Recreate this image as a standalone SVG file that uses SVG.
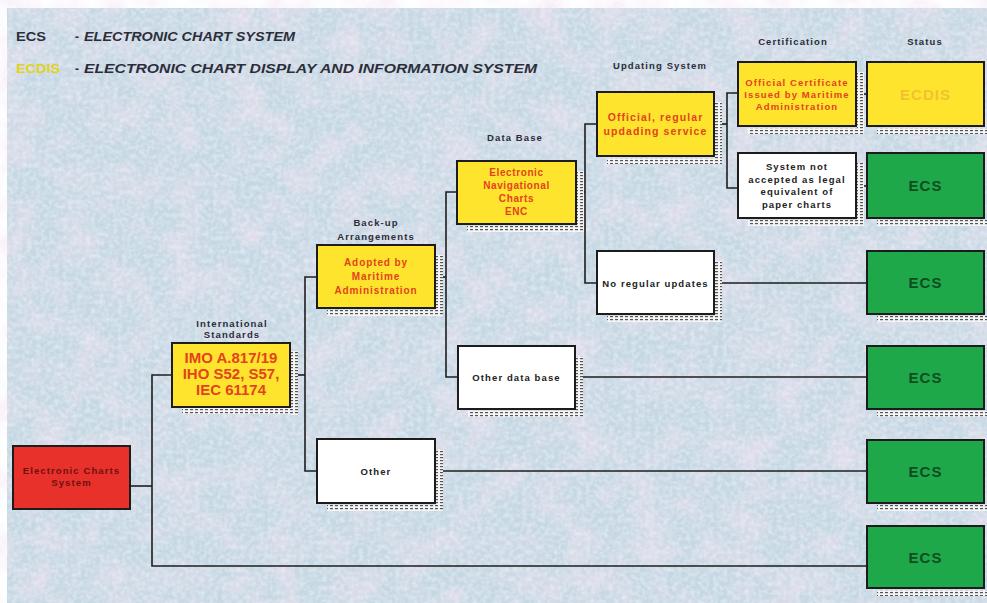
<svg xmlns="http://www.w3.org/2000/svg" width="987" height="603" viewBox="0 0 987 603">
  <defs>
    <style>
      text { font-family: "Liberation Sans", Arial, sans-serif; font-weight: bold; text-anchor: middle; }
      .box { stroke: #1c1c1c; stroke-width: 2; }
      .yel { fill: #ffe42e; }
      .wht { fill: #ffffff; }
      .grn { fill: #1fa84a; }
      .red { fill: #e8312b; }
      .shadow { fill: url(#dash); }
      .t-or { fill: #e4421c; }
      .t-blk { fill: #222222; font-size: 9.5px; letter-spacing: 1.1px; }
      .t-ecs { fill: #0f4d20; font-size: 15px; letter-spacing: 1px; }
      .cap { fill: #2a2d38; font-size: 9.5px; letter-spacing: 1.1px; }
      .hdr { text-anchor: start; fill: #2b2e3a; font-size: 12px; }
      .conn line, .conn polyline { stroke: #1e1e1e; stroke-width: 1.6; fill: none; }
    </style>
    <!-- dotted drop-shadow strips -->
    <pattern id="dash" width="5" height="3" patternUnits="userSpaceOnUse">
      <rect width="5" height="3" fill="#f4f4f4"/>
      <rect x="0" y="1" width="3" height="1.2" fill="#555555"/>
    </pattern>
    <filter id="mottle" filterUnits="userSpaceOnUse" x="0" y="0" width="987" height="603">
      <feTurbulence type="fractalNoise" baseFrequency="0.03" numOctaves="3" seed="7" result="n"/>
      <feColorMatrix in="n" type="matrix" values="0 0 0 0 0.88  0 0 0 0 0.74  0 0 0 0 0.86  2.0 0 0 0 -0.8" result="pink"/>
      <feTurbulence type="fractalNoise" baseFrequency="0.22" numOctaves="2" seed="3" result="g"/>
      <feColorMatrix in="g" type="matrix" values="0 0 0 0 0.95  0 0 0 0 0.97  0 0 0 0 1  0 1.3 0 0 -0.45" result="grain"/>
      <feMerge><feMergeNode in="pink"/><feMergeNode in="grain"/></feMerge>
    </filter>
  </defs>

  <!-- page and textured backdrop -->
  <rect width="987" height="603" fill="#ffffff"/>
  <rect x="7" y="8" width="980" height="595" fill="#c5d7e3"/>
  <rect x="7" y="8" width="980" height="595" fill="#ffffff" filter="url(#mottle)" opacity="0.7"/>

  <!-- legend -->
  <g id="legend">
    <text class="hdr" x="16" y="41" textLength="30" lengthAdjust="spacingAndGlyphs">ECS</text>
    <text class="hdr" x="75" y="41">-</text>
    <text class="hdr" x="84" y="41" font-style="italic" textLength="211" lengthAdjust="spacingAndGlyphs">ELECTRONIC CHART SYSTEM</text>
    <text class="hdr" x="16" y="73" style="fill:#e2d21c" textLength="44" lengthAdjust="spacingAndGlyphs">ECDIS</text>
    <text class="hdr" x="75" y="73">-</text>
    <text class="hdr" x="84" y="73" font-style="italic" textLength="453" lengthAdjust="spacingAndGlyphs">ELECTRONIC CHART DISPLAY AND INFORMATION SYSTEM</text>
  </g>

  <!-- column captions -->
  <g id="captions">
    <text class="cap" x="232" y="327">International</text>
    <text class="cap" x="232" y="338">Standards</text>
    <text class="cap" x="376" y="226">Back-up</text>
    <text class="cap" x="376" y="240">Arrangements</text>
    <text class="cap" x="515" y="141">Data Base</text>
    <text class="cap" x="660" y="69">Updating System</text>
    <text class="cap" x="793" y="45">Certification</text>
    <text class="cap" x="925" y="45">Status</text>
  </g>

  <!-- connectors -->
  <g id="connectors" class="conn">
    <polyline points="130,486 152,486"/>
    <polyline points="172,375 152,375 152,566 867,566"/>
    <polyline points="290,375 305,375"/>
    <polyline points="317,277 305,277 305,471 317,471"/>
    <polyline points="435,471 867,471"/>
    <polyline points="435,277 446,277"/>
    <polyline points="457,192 446,192 446,377 458,377"/>
    <polyline points="575,377 867,377"/>
    <polyline points="576,192 585,192"/>
    <polyline points="597,124 585,124 585,283 597,283"/>
    <polyline points="714,283 867,283"/>
    <polyline points="714,124 727,124"/>
    <polyline points="738,93 727,93 727,188 738,188"/>
    <polyline points="856,94 867,94"/>
    <polyline points="856,186 867,186"/>
  </g>

  <!-- nodes -->
  <g id="n-ecs-system">
    <rect class="box red" x="13" y="446" width="117" height="63"/>
    <text x="71.5" y="474" font-size="9.5" letter-spacing="1.1" fill="#6e1010">Electronic Charts</text>
    <text x="71.5" y="485.5" font-size="9.5" letter-spacing="1.1" fill="#6e1010">System</text>
  </g>

  <g id="n-standards">
    <rect class="shadow" x="291" y="351" width="7" height="64"/>
    <rect class="shadow" x="182" y="408" width="116" height="6"/>
    <rect class="box yel" x="172" y="343" width="118" height="64"/>
    <text class="t-or" x="231" y="363" font-size="15">IMO A.817/19</text>
    <text class="t-or" x="231" y="379" font-size="15">IHO S52, S57,</text>
    <text class="t-or" x="231" y="395" font-size="15">IEC 61174</text>
  </g>

  <g id="n-adopted">
    <rect class="shadow" x="436" y="255" width="7" height="61"/>
    <rect class="shadow" x="327" y="310" width="116" height="6"/>
    <rect class="box yel" x="317" y="245" width="118" height="63"/>
    <text class="t-or" x="376" y="266" font-size="10" letter-spacing="0.9">Adopted by</text>
    <text class="t-or" x="376" y="280" font-size="10" letter-spacing="0.9">Maritime</text>
    <text class="t-or" x="376" y="294" font-size="10" letter-spacing="0.9">Administration</text>
  </g>

  <g id="n-other">
    <rect class="shadow" x="436" y="449" width="7" height="62"/>
    <rect class="shadow" x="327" y="505" width="116" height="6"/>
    <rect class="box wht" x="317" y="439" width="118" height="64"/>
    <text class="t-blk" x="376" y="474.5">Other</text>
  </g>

  <g id="n-enc">
    <rect class="shadow" x="577" y="171" width="7" height="61"/>
    <rect class="shadow" x="467" y="226" width="117" height="6"/>
    <rect class="box yel" x="457" y="161" width="119" height="63"/>
    <text class="t-or" x="516.5" y="176" font-size="10" letter-spacing="0.6">Electronic</text>
    <text class="t-or" x="516.5" y="189" font-size="10" letter-spacing="0.6">Navigational</text>
    <text class="t-or" x="516.5" y="202" font-size="10" letter-spacing="0.6">Charts</text>
    <text class="t-or" x="516.5" y="215" font-size="10" letter-spacing="0.6">ENC</text>
  </g>

  <g id="n-other-db">
    <rect class="shadow" x="576" y="356" width="7" height="61"/>
    <rect class="shadow" x="468" y="411" width="115" height="6"/>
    <rect class="box wht" x="458" y="346" width="117" height="63"/>
    <text class="t-blk" x="516.5" y="380.5">Other data base</text>
  </g>

  <g id="n-official-updates">
    <rect class="shadow" x="715" y="102" width="7" height="62"/>
    <rect class="shadow" x="607" y="158" width="115" height="6"/>
    <rect class="box yel" x="597" y="92" width="117" height="64"/>
    <text class="t-or" x="655.5" y="121" font-size="10.5" letter-spacing="1.1">Official, regular</text>
    <text class="t-or" x="655.5" y="135" font-size="10.5" letter-spacing="1.1">updading service</text>
  </g>

  <g id="n-no-updates">
    <rect class="shadow" x="715" y="261" width="7" height="61"/>
    <rect class="shadow" x="607" y="316" width="115" height="6"/>
    <rect class="box wht" x="597" y="251" width="117" height="63"/>
    <text class="t-blk" x="655.5" y="286.5" letter-spacing="1">No regular updates</text>
  </g>

  <g id="n-certificate">
    <rect class="shadow" x="857" y="72" width="7" height="62"/>
    <rect class="shadow" x="748" y="128" width="116" height="6"/>
    <rect class="box yel" x="738" y="62" width="118" height="64"/>
    <text class="t-or" x="797" y="86" font-size="9.5" letter-spacing="1.1">Official Certificate</text>
    <text class="t-or" x="797" y="98" font-size="9.5" letter-spacing="1.1">Issued by Maritime</text>
    <text class="t-or" x="797" y="110" font-size="9.5" letter-spacing="1.1">Administration</text>
  </g>

  <g id="n-not-accepted">
    <rect class="shadow" x="857" y="163" width="7" height="63"/>
    <rect class="shadow" x="748" y="220" width="116" height="6"/>
    <rect class="box wht" x="738" y="153" width="118" height="65"/>
    <text class="t-blk" x="797" y="170">System not</text>
    <text class="t-blk" x="797" y="182.5">accepted as legal</text>
    <text class="t-blk" x="797" y="195">equivalent of</text>
    <text class="t-blk" x="797" y="207.5">paper charts</text>
  </g>

  <g id="s-ecdis">
    <rect class="shadow" x="877" y="128" width="110" height="6"/>
    <rect class="box yel" x="867" y="62" width="117" height="64"/>
    <text x="925.5" y="99.5" font-size="15" letter-spacing="1" fill="#f2c22e">ECDIS</text>
  </g>

  <g id="s-ecs-1">
    <rect class="shadow" x="877" y="220" width="110" height="6"/>
    <rect class="box grn" x="867" y="153" width="117" height="65"/>
    <text class="t-ecs" x="925.5" y="191">ECS</text>
  </g>

  <g id="s-ecs-2">
    <rect class="shadow" x="877" y="316" width="110" height="6"/>
    <rect class="box grn" x="867" y="251" width="117" height="63"/>
    <text class="t-ecs" x="925.5" y="288">ECS</text>
  </g>

  <g id="s-ecs-3">
    <rect class="shadow" x="877" y="411" width="110" height="6"/>
    <rect class="box grn" x="867" y="346" width="117" height="63"/>
    <text class="t-ecs" x="925.5" y="383">ECS</text>
  </g>

  <g id="s-ecs-4">
    <rect class="shadow" x="877" y="505" width="110" height="6"/>
    <rect class="box grn" x="867" y="440" width="117" height="63"/>
    <text class="t-ecs" x="925.5" y="477">ECS</text>
  </g>

  <g id="s-ecs-5">
    <rect class="shadow" x="877" y="590" width="110" height="6"/>
    <rect class="box grn" x="867" y="526" width="117" height="62"/>
    <text class="t-ecs" x="925.5" y="562.5">ECS</text>
  </g>
</svg>
